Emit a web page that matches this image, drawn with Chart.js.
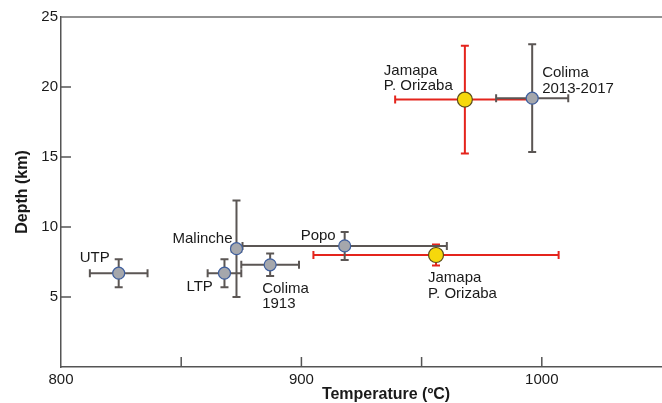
<!DOCTYPE html>
<html>
<head>
<meta charset="utf-8">
<script src="https://cdn.jsdelivr.net/npm/chart.js@4"></script>
<style>
  html,body{margin:0;padding:0;background:#fff;}
  #c{display:block;}
</style>
</head>
<body>
<canvas id="c" width="662" height="403"></canvas>
<script>
// grey points (temperature in ºC, depth in km)
const grayNames = [["UTP"],["LTP"],["Malinche"],["Colima","1913"],["Popo"],["Colima","2013-2017"]];
const grayTemp = [824, 868, 873, 887, 918, 996];
const grayTempErr = [12, 7, 2, 12, 42.5, 15];
const grayDepth = [6.7, 6.7, 8.45, 7.3, 8.65, 19.2];
const grayDepthErr = [1.0, 1.0, 3.45, 0.8, 1.0, 3.85];

// yellow points
const yellowNames = [["Jamapa","P. Orizaba"],["Jamapa","P. Orizaba"]];
const yellowTemp = [956, 968];
const yellowTempErr = [51, 29];
const yellowDepth = [8.0, 19.1];
const yellowDepthErr = [0.75, 3.85];

const xTickLabels = [800, 900, 1000];
const yTickLabels = [5, 10, 15, 20, 25];

// label placement, pixel offsets from the marker (first baseline)
const grayLabelPos = [
  {dx:-39, dy:-11, align:"left"},
  {dx:-38, dy:18, align:"left"},
  {dx:-4, dy:-6, align:"right"},
  {dx:-8, dy:28, align:"left"},
  {dx:-44, dy:-6, align:"left"},
  {dx:10, dy:-21, align:"left"},
];
const yellowLabelPos = [
  {dx:-8, dy:27, align:"left"},
  {dx:-81, dy:-25, align:"left"},
];

const FONT = "'Liberation Sans', Arial, Helvetica, sans-serif";
const GREY_BAR = "#5b5654";
const RED_BAR = "#e4241c";

function pts(t, d){ return t.map((v,i)=>({x:v, y:d[i]})); }

const errPlugin = {
  id: "errbars",
  beforeDatasetsDraw(chart){
    const {ctx, scales:{x, y}} = chart;
    const draw = (temps, tErr, deps, dErr, color) => {
      ctx.save();
      ctx.strokeStyle = color;
      ctx.lineWidth = 2;
      temps.forEach((t,i)=>{
        const px = x.getPixelForValue(t), py = y.getPixelForValue(deps[i]);
        const x0 = x.getPixelForValue(t - tErr[i]), x1 = x.getPixelForValue(t + tErr[i]);
        const y0 = y.getPixelForValue(deps[i] - dErr[i]), y1 = y.getPixelForValue(deps[i] + dErr[i]);
        ctx.beginPath();
        ctx.moveTo(x0, py); ctx.lineTo(x1, py);
        ctx.moveTo(x0, py-4); ctx.lineTo(x0, py+4);
        ctx.moveTo(x1, py-4); ctx.lineTo(x1, py+4);
        ctx.moveTo(px, y0); ctx.lineTo(px, y1);
        ctx.moveTo(px-4, y0); ctx.lineTo(px+4, y0);
        ctx.moveTo(px-4, y1); ctx.lineTo(px+4, y1);
        ctx.stroke();
      });
      ctx.restore();
    };
    draw(yellowTemp, yellowTempErr, yellowDepth, yellowDepthErr, RED_BAR);
    draw(grayTemp, grayTempErr, grayDepth, grayDepthErr, GREY_BAR);
  },
  afterDraw(chart){
    const {ctx, chartArea:ca, scales:{x, y}} = chart;
    ctx.save();
    // frame top line
    ctx.strokeStyle = "#6e6e6e";
    ctx.lineWidth = 1.5;
    ctx.beginPath();
    ctx.moveTo(ca.left, ca.top); ctx.lineTo(ca.right, ca.top);
    ctx.stroke();
    // inward ticks
    ctx.strokeStyle = "#555";
    ctx.lineWidth = 1.5;
    ctx.beginPath();
    [850, 900, 950, 1000].forEach(v=>{
      const px = x.getPixelForValue(v);
      ctx.moveTo(px, ca.bottom); ctx.lineTo(px, ca.bottom-10);
    });
    [5, 10, 15, 20].forEach(v=>{
      const py = y.getPixelForValue(v);
      ctx.moveTo(ca.left, py); ctx.lineTo(ca.left+10, py);
    });
    ctx.stroke();
    // point labels
    ctx.fillStyle = "#1a1a1a";
    ctx.font = "15px " + FONT;
    ctx.textBaseline = "alphabetic";
    const lab = (temps, deps, names, pos) => {
      temps.forEach((t,i)=>{
        const px = x.getPixelForValue(t), py = y.getPixelForValue(deps[i]);
        ctx.textAlign = pos[i].align;
        names[i].forEach((line,k)=>{
          ctx.fillText(line, px + pos[i].dx, py + pos[i].dy + k*15.5);
        });
      });
    };
    lab(grayTemp, grayDepth, grayNames, grayLabelPos);
    lab(yellowTemp, yellowDepth, yellowNames, yellowLabelPos);
    // axis titles
    ctx.font = "bold 16px " + FONT;
    ctx.textAlign = "center";
    ctx.textBaseline = "middle";
    ctx.fillText("Temperature (ºC)", 386, 395);
    ctx.translate(23, 192);
    ctx.rotate(-Math.PI/2);
    ctx.fillText("Depth (km)", 0, 0);
    ctx.restore();
  }
};

new Chart(document.getElementById("c"), {
  type: "scatter",
  data: {
    datasets: [
      {
        data: pts(grayTemp, grayDepth),
        pointRadius: 6, pointBackgroundColor: "#a5a7ac",
        pointBorderColor: "#3f5f9e", pointBorderWidth: 1.2,
      },
      {
        data: pts(yellowTemp, yellowDepth),
        pointRadius: 7.5, pointBackgroundColor: "#f6d80c",
        pointBorderColor: "#5a4c1c", pointBorderWidth: 1.2,
      },
    ],
  },
  options: {
    responsive: false,
    animation: false,
    layout: {autoPadding: false, padding: {top: 17, left: 0, right: 0, bottom: 0}},
    plugins: {legend: {display: false}, tooltip: {enabled: false}},
    scales: {
      x: {
        type: "linear", min: 800, max: 1050,
        grid: {display: false, drawTicks: false, tickLength: 0},
        border: {display: true, color: "#555", width: 1.5},
        ticks: {
          stepSize: 50, padding: 4, color: "#1a1a1a", maxRotation: 0,
          font: {family: FONT, size: 15},
          callback: v => xTickLabels.includes(v) ? String(v) : "",
        },
        afterFit: s => { s.height = 36; s.paddingLeft = 0; s.paddingRight = 0; },
      },
      y: {
        type: "linear", min: 0, max: 25,
        grid: {display: false, drawTicks: false, tickLength: 0},
        border: {display: true, color: "#555", width: 1.5},
        ticks: {
          stepSize: 5, padding: 3, color: "#1a1a1a",
          font: {family: FONT, size: 15},
          callback: v => yTickLabels.includes(v) ? String(v) : "",
        },
        afterFit: s => { s.width = 61; },
      },
    },
  },
  plugins: [errPlugin],
});
</script>
</body>
</html>
